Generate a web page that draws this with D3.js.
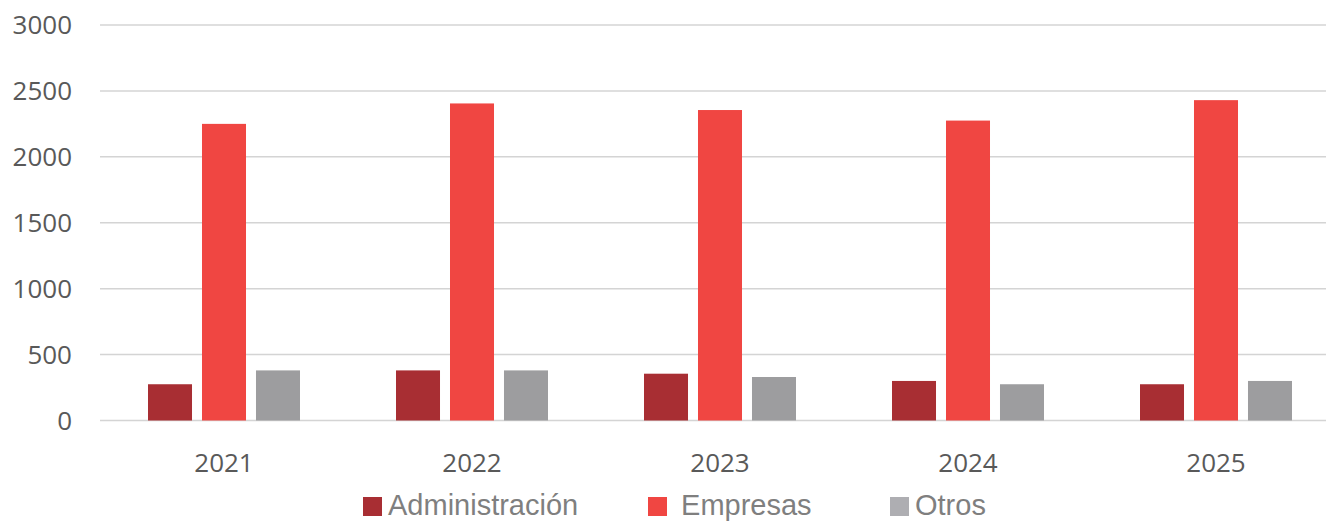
<!DOCTYPE html>
<html>
<head>
    <title>Administración / Empresas / Otros 2021-2025</title>
    <script src="https://d3js.org/d3.v7.min.js"></script>
    <style>
        body { margin: 0; background: #fff; }
        .tick-label { font-family: "Open Sans", sans-serif; font-size: 26px; fill: #595959; }
        .legend-label { font-family: "Liberation Sans", Arial, sans-serif; font-size: 29px; fill: #7f7f7f; }
    </style>
</head>
<body>
    <svg width="1326" height="522"></svg>
    <script>
        var years = ["2021", "2022", "2023", "2024", "2025"];
        var series = ["Administración", "Empresas", "Otros"];
        var administracion = [275, 380, 355, 300, 275];
        var empresas = [2250, 2405, 2355, 2275, 2430];
        var otros = [380, 380, 330, 275, 300];
        var yTicks = [0, 500, 1000, 1500, 2000, 2500, 3000];

        var colors = {"Administración": "#A82E33", "Empresas": "#F04642", "Otros": "#9D9D9F"};
        var legendColors = {"Administración": "#A82E33", "Empresas": "#F04642", "Otros": "#AEAEB2"};

        var values = {"Administración": administracion, "Empresas": empresas, "Otros": otros};
        var data = years.map(function(y, i) {
            return {year: y, vals: series.map(function(s) { return {key: s, value: values[s][i]}; })};
        });

        var svg = d3.select("svg");

        var x0 = d3.scaleBand().domain(years).range([100, 1340]);
        var x1 = d3.scaleBand().domain(series).range([48, 200]).paddingInner(0.185);
        var y = d3.scaleLinear().domain([0, 3000]).range([420.5, 25]);

        // gridlines
        svg.append("g")
           .selectAll("line")
           .data(yTicks)
           .enter().append("line")
           .attr("x1", 100)
           .attr("x2", 1326)
           .attr("y1", function(d) { return y(d); })
           .attr("y2", function(d) { return y(d); })
           .attr("stroke", "#D4D4D4")
           .attr("stroke-width", 1.5);

        // y labels
        svg.append("g")
           .selectAll("text")
           .data(yTicks)
           .enter().append("text")
           .attr("class", "tick-label")
           .attr("x", 72)
           .attr("y", function(d) { return y(d); })
           .attr("dy", "0.36em")
           .attr("text-anchor", "end")
           .text(function(d) { return d; });

        // bars
        var groups = svg.append("g")
           .selectAll("g")
           .data(data)
           .enter().append("g")
           .attr("transform", function(d) { return "translate(" + x0(d.year) + ",0)"; });

        groups.selectAll("rect")
           .data(function(d) { return d.vals; })
           .enter().append("rect")
           .attr("x", function(d) { return x1(d.key); })
           .attr("width", x1.bandwidth())
           .attr("y", function(d) { return y(d.value); })
           .attr("height", function(d) { return y(0) - y(d.value); })
           .attr("fill", function(d) { return colors[d.key]; });

        // x labels
        svg.append("g")
           .selectAll("text")
           .data(years)
           .enter().append("text")
           .attr("class", "tick-label")
           .attr("x", function(d) { return x0(d) + x0.bandwidth() / 2; })
           .attr("y", 472)
           .attr("text-anchor", "middle")
           .text(function(d) { return d; });

        // legend
        var legendX = [363, 648, 890];
        var legendText = ["Administración", " Empresas", "Otros"];
        var leg = svg.append("g")
           .selectAll("g")
           .data(series)
           .enter().append("g")
           .attr("transform", function(d, i) { return "translate(" + legendX[i] + ",497)"; });

        leg.append("rect")
           .attr("width", 19)
           .attr("height", 19)
           .attr("fill", function(d) { return legendColors[d]; });

        leg.append("text")
           .attr("class", "legend-label")
           .attr("x", 25)
           .attr("y", 18)
           .attr("xml:space", "preserve")
           .style("white-space", "pre")
           .text(function(d, i) { return legendText[i]; });
    </script>
</body>
</html>
